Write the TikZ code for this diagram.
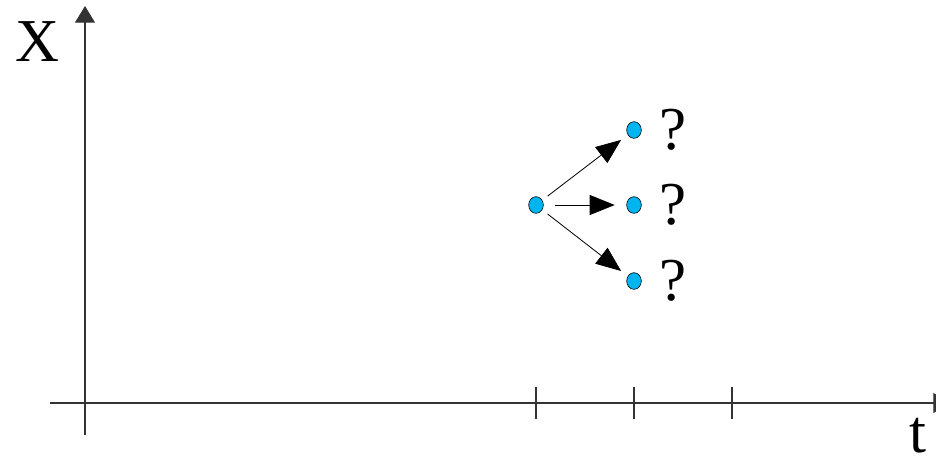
\documentclass[tikz,border=0pt]{standalone}
\usepackage{fontspec}
\setmainfont{Liberation Serif}
\usetikzlibrary{shapes.geometric, arrows.meta, positioning}

\definecolor{dotblue}{RGB}{0,180,240}

\begin{document}
\begin{tikzpicture}[
          x=0.03cm, y=-0.03cm,
          state/.style={draw, ellipse, inner sep=0pt, minimum width=0.44cm, minimum height=0.5cm, fill=dotblue, line width=0.5pt},
          bigtext/.style={font=\fontsize{52}{56}\selectfont},
          axis/.style={line width=0.9pt, black!80, -{Triangle[length=0.5cm, width=0.6cm]}},
          step arrow/.style={line width=0.7pt, -{Triangle[length=0.75cm, width=0.6cm]}},
          tickmark/.style={line width=0.9pt, black!80}
        ]
          \useasboundingbox (0,0) rectangle (936,467);

          % 軸
          \coordinate (o) at (85,403);
          \coordinate (xtop) at (85,6);
          \coordinate (xbot) at (85,435);
          \coordinate (tleft) at (50,403);
          \coordinate (tright) at (950,403);
          \draw[axis] (xbot) -- (xtop);
          \draw[axis] (tleft) -- (tright);
          \node[bigtext] (xlab) at (37,42) {X};
          \node[bigtext, inner sep=0pt, anchor=base] (tlab) at (918,452) {t};

          % 目盛り
          \foreach \t in {536,634,732}
            \draw[tickmark] (\t,387) -- (\t,419);

          % 状態
          \node[state] (s0) at (536,205) {};
          \node[state] (s1) at (634,130) {};
          \node[state] (s2) at (634,205) {};
          \node[state] (s3) at (634,281) {};
          \node[bigtext] (q1) [right=0.4cm of s1] {?};
          \node[bigtext] (q2) [right=0.4cm of s2] {?};
          \node[bigtext] (q3) [right=0.4cm of s3] {?};

          % 遷移
          \draw[step arrow, shorten <=0.2cm, shorten >=0.25cm] (s0) -- (s1);
          \draw[step arrow, shorten <=0.35cm, shorten >=0.35cm] (s0) -- (s2);
          \draw[step arrow, shorten <=0.2cm, shorten >=0.25cm] (s0) -- (s3);
        \end{tikzpicture}
\end{document}
